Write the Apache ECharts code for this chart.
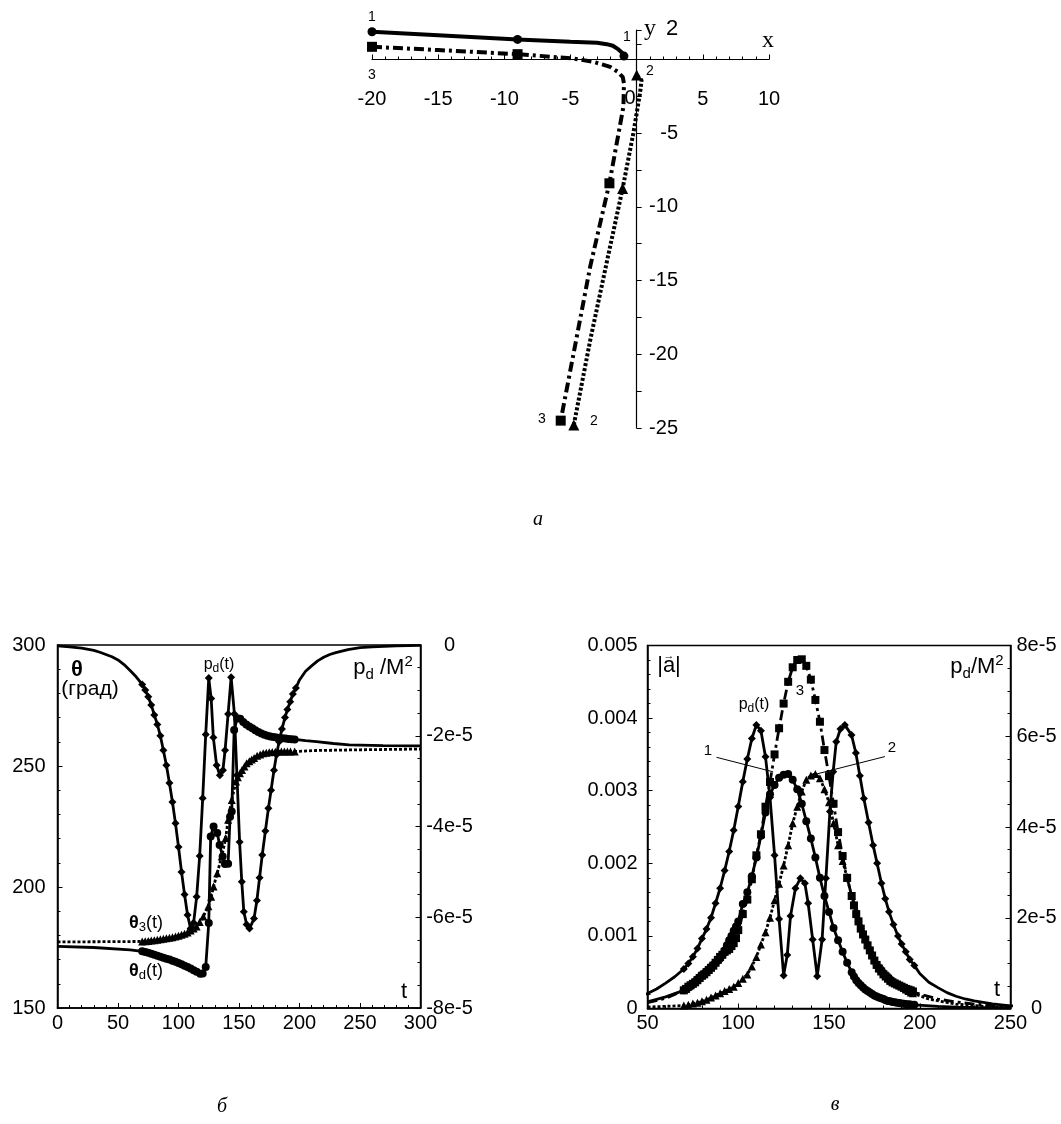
<!DOCTYPE html>
<html>
<head>
<meta charset="utf-8">
<title>chart</title>
<script src="https://cdn.jsdelivr.net/npm/echarts@6/dist/echarts.min.js"></script>
<style>
html, body { margin: 0; padding: 0; background: #fff; }
#main { width: 1061px; height: 1124px; }
</style>
</head>
<body>
<div id="main"></div>
<script>
// panel a: trajectories in the x-y plane
var path1 = [[-20,1.88],[-15,1.65],[-9,1.36],[-5,1.2],[-3,1.13],[-2.26,1.04],[-1.8,0.93],[-1.38,0.68],[-1.1,0.45],[-0.96,0.23]];
var path2 = [[-4.75,-24.8],[-3.5,-19],[-2.2,-13.5],[-1.06,-8.75],[-0.25,-5],[0.25,-2.3],[0.37,-1.4],[0,-1.06]];
var path3 = [[-20,0.86],[-15,0.64],[-9,0.36],[-4.8,0.07],[-3.27,-0.16],[-2,-0.5],[-1.4,-0.85],[-1.05,-1.2],[-0.96,-1.63],[-1,-3.2],[-2.06,-8.4],[-3.5,-14],[-5.74,-24.5]];
var path1Marks = [[-20,1.88],[-9,1.36],[-0.96,0.23]];
var path2Marks = [[0,-1.06],[-1.06,-8.75],[-4.75,-24.8]];
var path3Marks = [[-20,0.86],[-9,0.36],[-2.06,-8.4],[-5.74,-24.5]];

// pd/M^2 against t, in units of 1e-5 (positive in panel в, negated in panel б)
var pdCurve = [[0,0.02],[10,0.04],[20,0.07],[30,0.12],[35,0.16],[40,0.21],[45,0.26],[50,0.33],[55,0.43],[60,0.56],[65,0.7],[70,0.87],[72.5,0.99],[75,1.14],[77.5,1.32],[80,1.54],[82.5,1.75],[85,2],[87.5,2.32],[90,2.65],[92.5,3.04],[95,3.46],[97.5,3.93],[100,4.45],[102.5,5],[105,5.5],[107.5,5.95],[110,6.25],[112.5,6.12],[115,5.55],[117.5,4.65],[120,3.38],[122.5,1.97],[125,0.73],[127,1.18],[128.8,2.04],[131.5,2.65],[134.2,2.87],[136.7,2.76],[138.5,2.32],[141,1.52],[143.5,0.71],[146.2,1.52],[148.3,2.87],[150.5,4.34],[152.3,5.22],[154,5.88],[156.3,6.16],[158.7,6.25],[162.4,6.03],[164.8,5.63],[167,5.13],[169.2,4.63],[171.8,4.1],[174.3,3.6],[176.5,3.2],[178.9,2.76],[181,2.42],[183.1,2.13],[185.5,1.85],[188,1.6],[190,1.42],[192.3,1.25],[194.5,1.08],[197,0.95],[200,0.77],[205,0.58],[210,0.46],[215,0.35],[220,0.27],[225,0.21],[230,0.17],[240,0.1],[250,0.06],[260,0.04],[280,0.02],[300,0.01]];

// panel б: angles in degrees against t
var thetaD = [[0,175.5],[30,175],[60,174],[70,173.4],[72.5,173.1],[75,172.8],[77.5,172.4],[80,172],[82.5,171.6],[85,171.2],[87.5,170.8],[90,170.4],[92.5,170],[95,169.5],[97.5,169.1],[100,168.6],[102.5,168.1],[105,167.5],[107.5,166.9],[110,166.3],[112.5,165.6],[115,165],[118,164.2],[120,164.3],[122.5,166.9],[125,185.1],[126.6,220.9],[129,225],[132,222.3],[134,217.4],[136.5,212.6],[138.4,209.5],[141,209.6],[142.6,229],[144,231.2],[146,264.9],[148.6,269.7],[151,269.5],[153.5,268.2],[156,267.2],[158.5,266.3],[161,265.6],[163.5,264.8],[166,264],[168.5,263.4],[171,262.9],[173.5,262.5],[176,262.2],[178.5,262],[181,261.8],[183.5,261.6],[186,261.5],[188.5,261.4],[191,261.2],[193.5,261.1],[196,261],[205,260.5],[214,260.1],[228,259.3],[241,258.7],[269,258.4],[300,258.3]];
var theta3 = [[0,177.3],[40,177.4],[70,177.5],[72.5,177.6],[75,177.7],[77.5,177.9],[80,178],[82.5,178.2],[85,178.4],[87.5,178.6],[90,178.8],[92.5,179],[95,179.2],[97.5,179.5],[100,179.9],[102.5,180.3],[105,180.7],[107.5,181.2],[110,182],[112.5,182.9],[115,183.7],[117.5,185.5],[120.5,187.8],[124.7,192],[127,196],[129,200.2],[132,205.7],[135.7,212.6],[139,220.2],[141,227.8],[144,236],[147.5,243.6],[149,245.4],[150.8,247],[152.5,248.3],[154.5,249.8],[156.3,251.1],[158.5,252],[160.5,252.7],[162.5,253.3],[165,254.2],[167.5,254.8],[170,255.3],[172.5,255.5],[175,255.7],[177.5,255.8],[180,255.9],[182.5,256],[185,256],[187.5,256],[190,256],[192.5,256],[196,256],[214,256.4],[250,256.7],[300,257]];

// panel в: |a| against t, in units of 1e-3
var accel1 = [[50,0.09],[60,0.16],[70,0.25],[71.25,0.27],[72.5,0.29],[73.75,0.31],[75,0.34],[76.25,0.37],[77.5,0.4],[78.75,0.43],[80,0.46],[81.25,0.48],[82.5,0.51],[83.75,0.54],[85,0.57],[86.25,0.6],[87.5,0.63],[88.75,0.66],[90,0.69],[91.25,0.74],[92.5,0.8],[93.75,0.87],[95,0.94],[96.25,1],[97.5,1.07],[98.75,1.13],[100,1.2],[102.5,1.44],[105,1.6],[107.5,1.82],[110,2.08],[112.5,2.38],[115,2.7],[117.5,2.95],[120,3.08],[122.5,3.18],[125,3.22],[127.5,3.23],[130,3.15],[132.5,3.02],[135,2.82],[137.5,2.58],[140,2.34],[142.5,2.08],[145,1.8],[147.5,1.55],[150,1.33],[152.5,1.11],[155,0.94],[157.5,0.78],[160,0.63],[162.5,0.5],[163.75,0.44],[165,0.39],[166.25,0.35],[167.5,0.32],[168.75,0.29],[170,0.26],[171.25,0.24],[172.5,0.22],[173.75,0.2],[175,0.18],[176.25,0.165],[177.5,0.15],[178.75,0.14],[180,0.13],[181.25,0.115],[182.5,0.105],[183.75,0.1],[185,0.09],[186.25,0.085],[187.5,0.08],[188.75,0.075],[190,0.07],[191.25,0.065],[192.5,0.06],[193.75,0.058],[195,0.055],[197,0.05],[210,0.03],[220,0.02],[230,0.015],[250,0.01]];
var accel2 = [[50,0.02],[60,0.03],[70,0.04],[72.5,0.05],[75,0.07],[77.5,0.08],[80,0.1],[82.5,0.12],[85,0.15],[87.5,0.18],[90,0.21],[92.5,0.24],[95,0.27],[97.5,0.3],[100,0.35],[102.5,0.41],[105,0.47],[107.5,0.58],[110,0.71],[112.5,0.88],[115,1.05],[117.5,1.25],[120,1.49],[122.5,1.72],[125,1.97],[127.5,2.25],[130,2.55],[132.5,2.78],[135,2.99],[137.5,3.15],[140,3.21],[142.5,3.23],[145,3.17],[147.5,3.02],[150,2.84],[152.5,2.55],[155,2.25],[157.5,2.03],[160,1.8],[162.5,1.55],[163.75,1.45],[165,1.36],[166.25,1.25],[167.5,1.15],[168.75,1.06],[170,0.97],[171.25,0.9],[172.5,0.83],[173.75,0.76],[175,0.69],[176.25,0.64],[177.5,0.6],[178.75,0.56],[180,0.53],[181.25,0.49],[182.5,0.46],[183.75,0.43],[185,0.4],[186.25,0.375],[187.5,0.35],[188.75,0.33],[190,0.31],[191.25,0.285],[192.5,0.26],[193.75,0.24],[195,0.22],[196.25,0.21],[197.5,0.2],[205,0.13],[220,0.06],[235,0.03],[250,0.01]];
var accel3 = [[50,0.08],[60,0.14],[70,0.25],[71.25,0.27],[72.5,0.3],[73.75,0.32],[75,0.34],[76.25,0.36],[77.5,0.39],[78.75,0.42],[80,0.45],[81.25,0.47],[82.5,0.5],[83.75,0.53],[85,0.56],[86.25,0.59],[87.5,0.63],[88.75,0.67],[90,0.71],[91.25,0.74],[92.5,0.78],[93.75,0.8],[95,0.82],[96.25,0.86],[97.5,0.9],[98.75,0.97],[100,1.08],[102.5,1.3],[105,1.5],[107.5,1.78],[110,2.11],[112.5,2.4],[115,2.78],[117.5,3.12],[120,3.5],[122.5,3.86],[125,4.2],[127.5,4.5],[130,4.7],[132.5,4.8],[135,4.81],[137.5,4.72],[140,4.53],[142.5,4.25],[145,3.95],[147.5,3.56],[150,3.2],[152.5,2.82],[155,2.43],[157.5,2.1],[160,1.8],[162.5,1.55],[163.75,1.42],[165,1.3],[166.25,1.2],[167.5,1.1],[168.75,1.02],[170,0.95],[171.25,0.87],[172.5,0.8],[173.75,0.73],[175,0.66],[176.25,0.6],[177.5,0.55],[178.75,0.51],[180,0.47],[181.25,0.44],[182.5,0.41],[183.75,0.38],[185,0.36],[186.25,0.345],[187.5,0.33],[188.75,0.315],[190,0.3],[191.25,0.285],[192.5,0.27],[193.75,0.26],[195,0.25],[196.25,0.235],[197.5,0.22],[200,0.2],[210,0.13],[220,0.09],[230,0.06],[240,0.04],[250,0.03]];

// leader lines from the numbers 1 and 2 in panel в
var leader1 = [[88,3.46],[119.2,3.26]];
var leader2 = [[180.8,3.47],[143.1,3.23]];

var SANS = '"Liberation Sans", Arial, sans-serif';
var SERIF = '"Liberation Serif", "Times New Roman", serif';
var DOTTED = [3, 2];
var DASHDOT = [10, 4, 3, 4];

function line(xi, yi, data, width, dash) {
    return {
        type: 'line', xAxisIndex: xi, yAxisIndex: yi, data: data,
        showSymbol: false, silent: true, clip: false,
        lineStyle: { color: '#000', width: width, type: dash || 'solid' }
    };
}
function marks(xi, yi, data, symbol, size) {
    return {
        type: 'scatter', xAxisIndex: xi, yAxisIndex: yi, data: data,
        symbol: symbol, symbolSize: size, silent: true, clip: false,
        itemStyle: { color: '#000', opacity: 1 }
    };
}
function markerRange(data) {
    return data.filter(function (p) { return p[0] >= 70 && p[0] <= 197; });
}
function negate(data) {
    return data.map(function (p) { return [p[0], -p[1]]; });
}

function boxX(grid, min, max) {
    return {
        type: 'value', gridIndex: grid, min: min, max: max, interval: 50,
        splitLine: { show: false },
        axisLine: { onZero: false, lineStyle: { color: '#000', width: 1.5 } },
        axisTick: { inside: true, length: 5, lineStyle: { color: '#000' } },
        minorTick: { show: true, splitNumber: 5, length: 3, lineStyle: { color: '#000' } },
        axisLabel: { color: '#000', fontFamily: SANS, fontSize: 20, margin: 5 }
    };
}
function boxY(grid, pos, min, max, interval, split, margin, fmt) {
    return {
        type: 'value', gridIndex: grid, position: pos, min: min, max: max, interval: interval,
        splitLine: { show: false },
        axisLine: { show: true, onZero: false, lineStyle: { color: '#000', width: 1.5 } },
        axisTick: { inside: true, length: 5, lineStyle: { color: '#000' } },
        minorTick: { show: true, splitNumber: split, length: 3, lineStyle: { color: '#000' } },
        axisLabel: {
            color: '#000', fontFamily: SANS, fontSize: 20, margin: margin,
            align: pos === 'right' ? 'center' : 'right', formatter: fmt
        }
    };
}
function sciLabel(v) { return v === 0 ? '0' : v + 'e-5'; }
function accelLabel(v) { return v === 0 ? '0' : (v / 1000).toFixed(3); }

var pdRich = {
    m: { fontFamily: SANS, fontSize: 22, lineHeight: 28, verticalAlign: 'middle', fill: '#000' },
    s: { fontFamily: SANS, fontSize: 15, lineHeight: 28, verticalAlign: 'bottom', fill: '#000' },
    u: { fontFamily: SANS, fontSize: 15, lineHeight: 28, verticalAlign: 'top', fill: '#000' },
    sm: { fontFamily: SANS, fontSize: 16, lineHeight: 20, verticalAlign: 'middle', fill: '#000' },
    ss: { fontFamily: SANS, fontSize: 12, lineHeight: 20, verticalAlign: 'bottom', fill: '#000' },
    tb: { fontFamily: SANS, fontSize: 22, fontWeight: 'bold', lineHeight: 24, verticalAlign: 'middle', fill: '#000' },
    th: { fontFamily: SANS, fontSize: 18, fontWeight: 'bold', lineHeight: 22, verticalAlign: 'middle', fill: '#000' },
    ts: { fontFamily: SANS, fontSize: 13, lineHeight: 22, verticalAlign: 'bottom', fill: '#000' },
    tm: { fontFamily: SANS, fontSize: 18, lineHeight: 22, verticalAlign: 'middle', fill: '#000' }
};
function text(x, y, str, font, size, extra) {
    var style = {
        text: str, fill: '#000', font: (extra || '') + ' ' + size + 'px ' + font,
        align: 'center', verticalAlign: 'middle', rich: pdRich
    };
    return { type: 'text', x: x, y: y, silent: true, style: style };
}

var option = {
    animation: false,
    backgroundColor: '#fff',
    grid: [
        { left: 372, top: 30, width: 397, height: 398 },
        { left: 57.5, top: 645, width: 363, height: 363, show: true, borderColor: '#000', borderWidth: 1.5, backgroundColor: 'transparent' },
        { left: 647.5, top: 645.5, width: 363, height: 363, show: true, borderColor: '#000', borderWidth: 1.5, backgroundColor: 'transparent' }
    ],
    xAxis: [
        {
            type: 'value', gridIndex: 0, min: -20, max: 10, interval: 5,
            splitLine: { show: false },
            axisLine: { onZero: true, lineStyle: { color: '#000', width: 1.2 } },
            axisTick: { inside: true, length: 5, lineStyle: { color: '#000' } },
            minorTick: { show: true, splitNumber: 5, length: 3, lineStyle: { color: '#000' } },
            axisLabel: { color: '#000', fontFamily: SANS, fontSize: 20, margin: -339, customValues: [-20, -15, -10, -5, 5, 10] }
        },
        boxX(1, 0, 300),
        boxX(2, 50, 250)
    ],
    yAxis: [
        {
            type: 'value', gridIndex: 0, min: -25, max: 2,
            splitLine: { show: false },
            axisLine: { onZero: true, lineStyle: { color: '#000', width: 1.2 } },
            axisTick: { inside: true, length: 5, lineStyle: { color: '#000' }, customValues: [-25, -22.5, -20, -17.5, -15, -12.5, -10, -7.5, -5, -2.5, 0, 1, 2] },
            axisLabel: { inside: true, color: '#000', fontFamily: SANS, fontSize: 20, margin: 306, align: 'right', customValues: [-25, -20, -15, -10, -5] }
        },
        boxY(1, 'left', 150, 300, 50, 5, 12),
        boxY(1, 'right', -8, 0, 2, 4, 29, sciLabel),
        boxY(2, 'left', 0, 5, 1, 5, 10, accelLabel),
        boxY(2, 'right', 0, 8, 2, 4, 26, sciLabel)
    ],
    series: [
        // panel a
        line(0, 0, path1, 4),
        line(0, 0, path3, 4, DASHDOT),
        line(0, 0, path2, 4, DOTTED),
        marks(0, 0, path1Marks, 'circle', 9),
        marks(0, 0, path3Marks, 'rect', 10),
        marks(0, 0, path2Marks, 'triangle', 11),
        // panel б
        line(1, 2, negate(pdCurve), 2.8),
        marks(1, 2, negate(markerRange(pdCurve)), 'diamond', 8),
        line(1, 1, thetaD, 2.8),
        line(1, 1, theta3, 2.8, DOTTED),
        marks(1, 1, markerRange(thetaD), 'circle', 8),
        marks(1, 1, markerRange(theta3), 'triangle', 8),
        // panel в
        line(2, 4, pdCurve, 2.8),
        marks(2, 4, markerRange(pdCurve), 'diamond', 8),
        line(2, 3, accel1, 2.8),
        line(2, 3, accel2, 2.8, DOTTED),
        line(2, 3, accel3, 2.8, DASHDOT),
        marks(2, 3, markerRange(accel1), 'circle', 8),
        marks(2, 3, markerRange(accel2), 'triangle', 8),
        marks(2, 3, markerRange(accel3), 'rect', 8),
        line(2, 3, leader1, 1),
        line(2, 3, leader2, 1)
    ],
    graphic: [
        // panel a texts
        text(372, 17, '1', SANS, 14),
        text(627, 37, '1', SANS, 14),
        text(372, 75, '3', SANS, 14),
        text(650, 71, '2', SANS, 14),
        text(542, 419, '3', SANS, 14),
        text(594, 421, '2', SANS, 14),
        text(650, 29, 'y', SERIF, 24),
        text(672, 29, '2', SANS, 22),
        text(768, 41, 'x', SERIF, 24),
        text(630, 98, '0', SANS, 20),
        // panel б texts
        text(77, 670, '{tb|\u03b8}', SANS, 22),
        text(90, 689, '(\u0433\u0440\u0430\u0434)', SANS, 21),
        text(219, 665, '{sm|p}{ss|d}{sm|(t)}', SANS, 16),
        text(383, 668, '{m|p}{s|d}{m| /M}{u|2}', SANS, 22),
        text(146, 923, '{th|\u03b8}{ts|3}{tm|(t)}', SANS, 18),
        text(146, 971, '{th|\u03b8}{ts|d}{tm|(t)}', SANS, 18),
        text(404, 992, 't', SANS, 22),
        text(222, 1107, '\u0431', SERIF, 20, 'italic'),
        // panel в texts
        text(669, 666, '|a|', SANS, 22),
        text(669, 656, '\u2192', SANS, 11),
        text(977, 667, '{m|p}{s|d}{m|/M}{u|2}', SANS, 22),
        text(754, 705, '{sm|p}{ss|d}{sm|(t)}', SANS, 16),
        text(800, 691, '3', SANS, 15),
        text(708, 751, '1', SANS, 15),
        text(892, 748, '2', SANS, 15),
        text(997, 990, 't', SANS, 22),
        text(835, 1105, '\u0432', SERIF, 20, 'italic'),
        text(538, 520, '\u0430', SERIF, 20, 'italic')
    ]
};

var chart = echarts.init(document.getElementById('main'));
chart.setOption(option);
</script>
</body>
</html>
